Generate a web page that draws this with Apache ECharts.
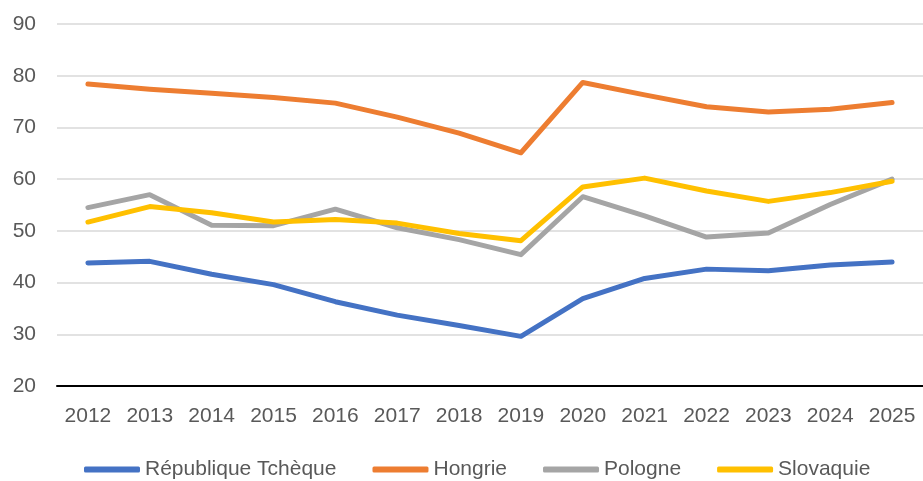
<!DOCTYPE html>
<html>
<head>
<meta charset="utf-8" />
<title>Graphique</title>
<script src="https://cdn.jsdelivr.net/npm/echarts@6/dist/echarts.min.js"></script>
<style>
html, body { margin: 0; padding: 0; background: #fff; }
#chart { width: 923px; height: 481px; }
</style>
</head>
<body>
<div id="chart"></div>
<script type="text/javascript">
// années (axe x)
var years = ['2012','2013','2014','2015','2016','2017','2018','2019','2020','2021','2022','2023','2024','2025'];
// valeurs par pays
var tcheque  = [43.8, 44.1, 41.6, 39.6, 36.3, 33.7, 31.7, 29.6, 36.9, 40.8, 42.6, 42.3, 43.4, 44.0];
var hongrie  = [78.4, 77.4, 76.6, 75.8, 74.7, 72.0, 68.9, 65.1, 78.7, 76.3, 74.0, 73.0, 73.5, 74.8];
var pologne  = [54.5, 57.0, 51.1, 51.0, 54.2, 50.6, 48.3, 45.4, 56.6, 52.9, 48.8, 49.6, 55.1, 60.0];
var slovaquie = [51.7, 54.7, 53.5, 51.7, 52.2, 51.5, 49.5, 48.1, 58.5, 60.2, 57.7, 55.7, 57.4, 59.6];
var noms = ['République Tchèque', 'Hongrie', 'Pologne', 'Slovaquie'];

var police = 'Liberation Sans, Arial, sans-serif';

function serie(nom, data, couleur) {
	return {
		name: nom,
		type: 'line',
		data: data,
		symbol: 'none',
		smooth: false,
		color: couleur,
		lineStyle: { width: 5, color: couleur, cap: 'round', join: 'round' }
	};
}

var myChart = echarts.init(document.getElementById('chart'));
var option = {
	animation: false,
	backgroundColor: '#fff',
	grid: { left: 57, right: 0, top: 24, bottom: 95 },
	legend: {
		data: noms,
		left: 84,
		top: 459,
		padding: 0,
		itemWidth: 56,
		itemHeight: 6,
		itemGap: 36,
		icon: 'roundRect',
		textStyle: { color: '#595959', fontSize: 21, fontFamily: police }
	},
	xAxis: {
		type: 'category',
		data: years,
		boundaryGap: true,
		axisLine: { lineStyle: { color: '#000', width: 2 } },
		axisTick: { show: false },
		axisLabel: { interval: 0, color: '#595959', fontSize: 21, fontFamily: police, margin: 20 }
	},
	yAxis: {
		type: 'value',
		min: 20,
		max: 90,
		interval: 10,
		axisLine: { show: false },
		axisTick: { show: false },
		splitLine: { lineStyle: { color: '#d9d9d9', width: 1.5 } },
		axisLabel: { color: '#595959', fontSize: 21, fontFamily: police, margin: 21 }
	},
	series: [
		serie(noms[0], tcheque, '#4472C4'),
		serie(noms[1], hongrie, '#ED7D31'),
		serie(noms[2], pologne, '#A5A5A5'),
		serie(noms[3], slovaquie, '#FFC000')
	]
};
myChart.setOption(option);
</script>
</body>
</html>
